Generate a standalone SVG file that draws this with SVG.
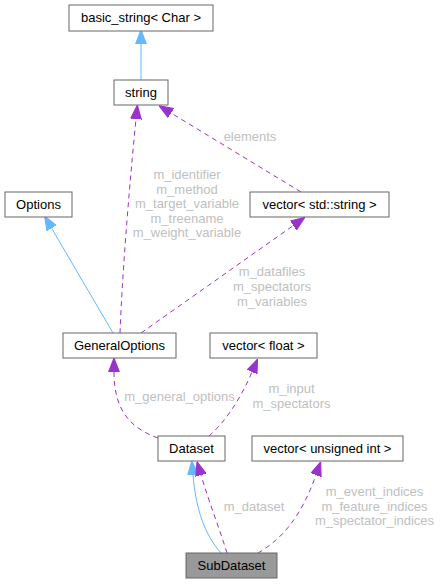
<svg xmlns="http://www.w3.org/2000/svg" width="441" height="584" viewBox="0 0 441 584">
<style>
.node rect{fill:#ffffff;stroke:#666666;stroke-width:1}
.node.hl rect{fill:#999999}
.node text{font-family:"Liberation Sans",Arial,sans-serif;font-size:13px;fill:#000000;text-anchor:middle}
.lbl{font-family:"Liberation Sans",Arial,sans-serif;font-size:13px;fill:#c0c0c0;text-anchor:middle}
.inh{fill:none;stroke:#63b8ff;stroke-width:1}
.use{fill:none;stroke:#9a32cd;stroke-width:1;stroke-dasharray:5,4}
</style>
<defs>
<marker id="ab" markerUnits="userSpaceOnUse" markerWidth="14" markerHeight="12" refX="0" refY="5" orient="auto" viewBox="0 0 13 10">
<path d="M0,0 L13,5 L0,10 z" fill="#63b8ff" stroke="#63b8ff" stroke-width="1"/>
</marker>
<marker id="ap" markerUnits="userSpaceOnUse" markerWidth="14" markerHeight="12" refX="0" refY="5" orient="auto" viewBox="0 0 13 10">
<path d="M0,0 L13,5 L0,10 z" fill="#9a32cd" stroke="#9a32cd" stroke-width="1"/>
</marker>
</defs>
<g id="edges">
<path class="inh" d="M141,80 L141,44" marker-end="url(#ab)"/>
<path class="use" d="M120,333 C122,280 128,200 136,119" marker-end="url(#ap)"/>
<path class="use" d="M301,192 L171,113" marker-end="url(#ap)"/>
<path class="inh" d="M113,333 L51.6,228.2" marker-end="url(#ab)"/>
<path class="use" d="M141,333 L293.4,225.5" marker-end="url(#ap)"/>
<path class="use" d="M158,438 C130,428 114,410 114,372" marker-end="url(#ap)"/>
<path class="use" d="M209,436 C225,422 240,400 252,372" marker-end="url(#ap)"/>
<path class="inh" d="M221,553 C205,535 196,510 193,475" marker-end="url(#ab)"/>
<path class="use" d="M227,553 C220,530 210,505 201,475" marker-end="url(#ap)"/>
<path class="use" d="M258,553 C280,540 300,520 316,475" marker-end="url(#ap)"/>
<text class="lbl" x="250" y="140.5">elements</text>
<text class="lbl" x="187" y="179">m_identifier</text>
<text class="lbl" x="187" y="193.5">m_method</text>
<text class="lbl" x="187" y="208">m_target_variable</text>
<text class="lbl" x="187" y="222.5">m_treename</text>
<text class="lbl" x="187" y="237">m_weight_variable</text>
<text class="lbl" x="272" y="276">m_datafiles</text>
<text class="lbl" x="272" y="291">m_spectators</text>
<text class="lbl" x="272" y="305.5">m_variables</text>
<text class="lbl" x="179.5" y="401">m_general_options</text>
<text class="lbl" x="291.5" y="393">m_input</text>
<text class="lbl" x="291.5" y="408">m_spectators</text>
<text class="lbl" x="254" y="511">m_dataset</text>
<text class="lbl" x="374.5" y="496">m_event_indices</text>
<text class="lbl" x="374.5" y="511">m_feature_indices</text>
<text class="lbl" x="374.5" y="525">m_spectator_indices</text>
</g>
<g id="node-basic_string" class="node"><rect x="69" y="5" width="144" height="26"/><text x="141" y="22">basic_string&lt; Char &gt;</text></g>
<g id="node-string" class="node"><rect x="114" y="80" width="54" height="25"/><text x="141" y="97">string</text></g>
<g id="node-Options" class="node"><rect x="5" y="192" width="67" height="25"/><text x="38.5" y="209">Options</text></g>
<g id="node-vector_string" class="node"><rect x="250" y="192" width="139" height="25"/><text x="319.5" y="209">vector&lt; std::string &gt;</text></g>
<g id="node-GeneralOptions" class="node"><rect x="63" y="333" width="113" height="25"/><text x="119.5" y="350">GeneralOptions</text></g>
<g id="node-vector_float" class="node"><rect x="210" y="333" width="107" height="25"/><text x="263.5" y="350">vector&lt; float &gt;</text></g>
<g id="node-Dataset" class="node"><rect x="158" y="436" width="67" height="25"/><text x="191.5" y="453">Dataset</text></g>
<g id="node-vector_uint" class="node"><rect x="252" y="436" width="151" height="25"/><text x="327.5" y="453">vector&lt; unsigned int &gt;</text></g>
<g id="node-SubDataset" class="node hl"><rect x="186" y="553" width="91" height="25"/><text x="231.5" y="570">SubDataset</text></g>
</svg>
